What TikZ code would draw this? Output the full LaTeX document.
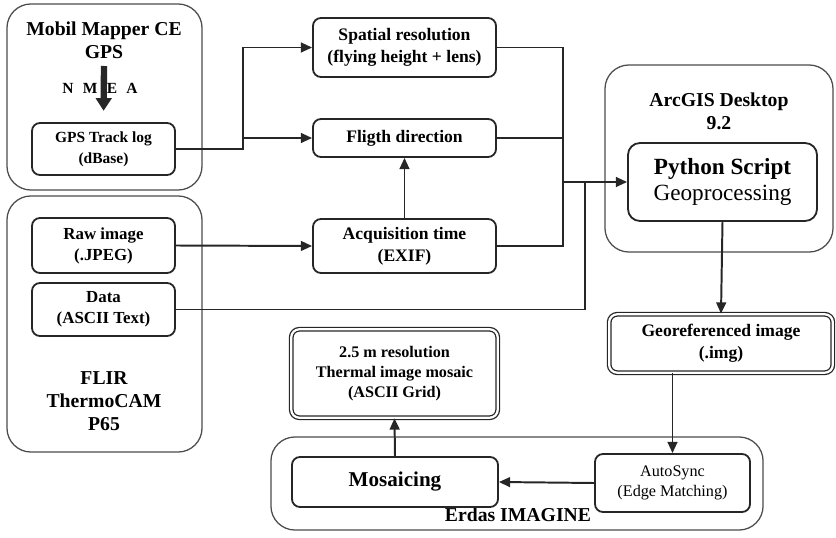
\documentclass[tikz,border=0pt]{standalone}
\usepackage{fontspec}
\setmainfont{Liberation Serif}
\usetikzlibrary{arrows.meta,positioning,calc}

\begin{document}
\begin{tikzpicture}[
    x=0.025cm, y=-0.025cm,
    group/.style={draw=black!70, line width=0.9pt, rounded corners=0.6cm},
    grouplabel/.style={align=center, font=\bfseries\fontsize{14}{16.5}\selectfont},
    stepbox/.style={draw=black!85, line width=1.3pt, rounded corners=0.2cm, align=center, font=\bfseries\fontsize{12.5}{15.5}\selectfont},
    result/.style={stepbox, line width=0.9pt, double, double distance=1.6pt},
    link/.style={line width=1.4pt, black!85},
    flow/.style={link, -{Triangle[length=8pt,width=7pt]}},
    bigflow/.style={line width=4.5pt, black!85, -{Triangle[length=9pt,width=11pt]}}
]
    \useasboundingbox (0,0) rectangle (836,538);

    % Software / device groups
    \node[group, minimum width=4.875cm, minimum height=4.65cm] (gpsgroup) at (104.5,97) {};
    \node[group, minimum width=4.875cm, minimum height=6.4cm] (flirgroup) at (104.5,324) {};
    \node[group, minimum width=5.7cm, minimum height=4.675cm] (arcgroup) at (719,158.5) {};
    \node[group, minimum width=12.3cm, minimum height=2.325cm] (erdasgroup) at (517,483.5) {};

    \node[grouplabel] (gpslabel) at (104,40) {Mobil Mapper CE\\GPS};
    \node[font={\bfseries\fontsize{11}{13}\selectfont\spaceskip=0.6em\relax}] (nmea) at (100,88) {N M E A};
    \node[grouplabel] (flirlabel) at (104,401) {FLIR\\ThermoCAM\\P65};
    \node[grouplabel] (arclabel) at (719,111) {ArcGIS Desktop\\9.2};
    \node[grouplabel] (erdaslabel) at (518,515) {Erdas IMAGINE};

    % Inputs
    \node[stepbox, font=\bfseries\fontsize{11}{15}\selectfont, minimum width=3.575cm, minimum height=1.3cm] (track) at (103.5,149) {GPS Track log\\(dBase)};
    \node[stepbox, font=\bfseries\fontsize{12}{15}\selectfont, minimum width=3.575cm, minimum height=1.375cm] (raw) at (103.5,245.5) {Raw image\\(.JPEG)};
    \node[stepbox, font=\bfseries\fontsize{12}{15}\selectfont, minimum width=3.575cm, minimum height=1.325cm] (data) at (103.5,309.5) {Data\\(ASCII Text)};

    % Parameters
    \node[stepbox, minimum width=4.575cm, minimum height=1.475cm] (spatial) at (404.5,47.5) {Spatial resolution\\(flying height + lens)};
    \node[stepbox, minimum width=4.575cm, minimum height=0.95cm] (flight) at (404.5,138) {Fligth direction};
    \node[stepbox, minimum width=4.575cm, minimum height=1.35cm] (acq) at (404.5,246) {Acquisition time\\(EXIF)};

    % Processing
    \node[stepbox, rounded corners=0.3cm, font=\bfseries\fontsize{16.5}{19}\selectfont, minimum width=4.725cm, minimum height=1.95cm] (python) at (722.5,182) {Python Script\\\mdseries Geoprocessing};
    \node[result, minimum width=5.59cm, minimum height=1.46cm] (georef) at (721,343.5) {Georeferenced image\\(.img)};
    \node[stepbox, font=\fontsize{11.5}{14.5}\selectfont, minimum width=3.875cm, minimum height=1.45cm] (autosync) at (672.5,483) {AutoSync\\(Edge Matching)};
    \node[stepbox, font=\bfseries\fontsize{15}{18}\selectfont, minimum width=5.15cm, minimum height=1.25cm] (mosaicing) at (395,482) {Mosaicing};
    \node[result, font=\bfseries\fontsize{11.5}{14.5}\selectfont, minimum width=5.16cm, minimum height=2.21cm] (thermal) at (394.5,373.5) {2.5 m resolution\\Thermal image mosaic\\(ASCII Grid)};

    % NMEA stream
    \coordinate (nmeatop) at (104,66);
    \draw[bigflow, shorten >=8pt] (nmeatop) -- (track.north);

    % Links
    \coordinate (trackx) at (243,0);
    \draw[flow] (track.east) -- (track.east -| trackx) |- (spatial.west);
    \draw[flow] (flight.west -| trackx) -- (flight.west);
    \draw[flow] (raw.east) -- (acq.west);
    \draw[flow] (acq.north) -- (flight.south);

    \coordinate (merge) at (563,182);
    \coordinate (datax) at (585,182);
    \draw[link] (spatial.east) -| (merge);
    \draw[link] (flight.east) -- (flight.east -| merge);
    \draw[link] (acq.east) -| (merge);
    \draw[link] (data.east) -| (datax);
    \draw[flow] (merge) -- (python.west);

    \draw[flow] (python.south) -- (georef.north);
    \draw[flow] (georef.south -| autosync.north) -- (autosync.north);
    \draw[flow] (autosync.west) -- (mosaicing.east);
    \draw[flow] (mosaicing.north) -- (thermal.south);
\end{tikzpicture}
\end{document}
